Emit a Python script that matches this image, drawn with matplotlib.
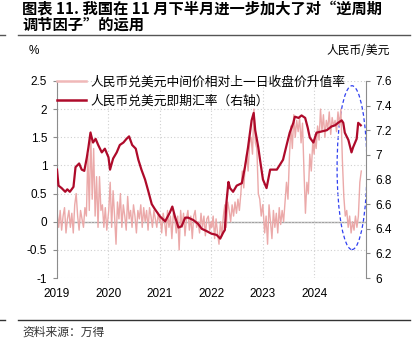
import numpy as np
import matplotlib
matplotlib.use("Agg")
import matplotlib.pyplot as plt
from matplotlib.patches import Ellipse
from matplotlib.lines import Line2D

plt.rcParams['font.family'] = ['Liberation Sans', 'Noto Sans CJK SC', 'DejaVu Sans']

# 中间价相对上一日收盘价升值率 (%), ~36 points per year
pink_2019 = [0.15, -0.1, 0.2, -0.15, 0.1, 0.25, -0.2, 0.05, 0.2, -0.1, 0.15, -0.2, 0.3, 0.5, 0.1, -0.15, 0.2, 0.05,
             -0.1, 0.25, 0.1, 1.2, 0.2, 1.6, 0.4, 1.3, 0.1, 0.8, -0.1, 0.8, 0.2, 0.3, -0.1, 0.25, -0.15, 0.1]
pink_2020 = [0.2, 0.7, -0.1, 0.55, 0.1, -0.4, 0.35, 0.05, 0.5, -0.1, 0.3, 0.1, -0.15, 0.45, 0.05, 0.2, -0.1, 0.3,
             0.1, -0.2, 0.2, 0.05, 0.3, -0.1, 0.25, 0.0, 0.2, -0.15, 0.25, 0.1, -0.1, 0.2, 0.05, -0.1, 0.15, 0.0]
pink_2021 = [0.1, -0.2, 0.15, 0.0, -0.25, 0.2, -0.1, 0.1, -0.3, 0.15, 0.05, -0.2, 0.1, -0.5, 0.2, -0.1, 0.15, -0.25,
             0.05, 0.2, -0.15, 0.1, -0.3, 0.1, 0.2, -0.1, 0.0, -0.2, 0.15, -0.1, 0.1, -0.25, 0.05, 0.1, -0.15, 0.0]
pink_2022 = [-0.1, 0.1, -0.3, 0.05, -0.2, -0.4, 0.0, -0.25, 0.1, 0.3, -0.1, 0.35, 0.2, 0.0, 0.3, 0.1, 0.35, 0.15,
             0.4, 0.2, 0.5, 0.9, 0.6, 1.0, 1.2, 0.9, 1.4, 1.5, 1.2, 2.0, 1.4, 1.3, 0.5, 0.4, 0.1, 0.3]
pink_2023 = [0.2, -0.2, 0.1, -0.4, 0.3, 0.0, -0.3, 0.2, -0.1, 0.15, -0.2, 0.25, -0.05, 0.2, 0.0, 0.35, 0.7, 0.4,
             1.15, 1.7, 1.3, 1.9, 1.5, 1.8, 1.6, 1.85, 1.4, 1.75, 0.9, 0.15, 0.7, 0.5, 1.2, 0.9, 1.4, 1.2]
pink_2024 = [1.5, 1.3, 1.7, 1.45, 2.0, 1.6, 1.9, 1.5, 1.8, 1.65, 1.95, 1.55, 1.85, 1.7, 1.8, 1.6, 1.95, 1.7,
             2.0, 1.1, 0.45, 0.1, 0.2, -0.1, 0.1, -0.2, 0.0, -0.15, 0.1, -0.1, 0.1, 0.7, 0.9]
pink_years = [2019, 2020, 2021, 2022, 2023, 2024]
pink_vals = [pink_2019, pink_2020, pink_2021, pink_2022, pink_2023, pink_2024]

# 人民币兑美元即期汇率 (右轴)
spot_t = [2019.00, 2019.03, 2019.09, 2019.16, 2019.20, 2019.25, 2019.32, 2019.36, 2019.43, 2019.48, 2019.53,
          2019.58, 2019.61, 2019.65, 2019.70, 2019.75, 2019.80, 2019.87, 2019.93, 2020.00, 2020.03, 2020.09,
          2020.16, 2020.22, 2020.29, 2020.35, 2020.40, 2020.46, 2020.53, 2020.58, 2020.64, 2020.71, 2020.77,
          2020.84, 2020.90, 2021.00, 2021.10, 2021.19, 2021.24, 2021.29, 2021.36, 2021.42, 2021.49, 2021.55,
          2021.65, 2021.74, 2021.81, 2021.91, 2022.00, 2022.10, 2022.17, 2022.23, 2022.26, 2022.29, 2022.33,
          2022.36, 2022.42, 2022.49, 2022.59, 2022.65, 2022.71, 2022.78, 2022.82, 2022.85, 2022.91, 2022.94,
          2023.00, 2023.07, 2023.14, 2023.20, 2023.27, 2023.33, 2023.39, 2023.46, 2023.52, 2023.59, 2023.62,
          2023.69, 2023.75, 2023.82, 2023.87, 2023.91, 2023.98, 2024.04, 2024.14, 2024.24, 2024.33, 2024.40,
          2024.46, 2024.53, 2024.56, 2024.59, 2024.66, 2024.72, 2024.75, 2024.82, 2024.85, 2024.90]
spot_v = [6.88, 6.75, 6.73, 6.70, 6.72, 6.70, 6.74, 6.90, 6.93, 6.88, 6.87,
          6.98, 7.06, 7.18, 7.10, 7.13, 7.08, 7.02, 7.05, 6.98, 6.88, 6.97,
          7.02, 7.08, 7.10, 7.13, 7.15, 7.08, 7.05, 6.96, 6.88, 6.80, 6.71,
          6.60, 6.56, 6.50, 6.46, 6.53, 6.58, 6.50, 6.41, 6.42, 6.49, 6.49,
          6.47, 6.44, 6.40, 6.38, 6.36, 6.35, 6.32, 6.37, 6.39, 6.61, 6.78,
          6.73, 6.70, 6.75, 6.77, 6.90, 7.06, 7.28, 7.34, 7.20, 7.06, 6.97,
          6.80, 6.73, 6.88, 6.88, 6.88, 6.92, 6.96, 7.08, 7.18, 7.26, 7.31,
          7.30, 7.32, 7.30, 7.22, 7.14, 7.10, 7.18, 7.19, 7.20, 7.23, 7.24,
          7.26, 7.28, 7.26, 7.18, 7.12, 7.02, 7.06, 7.13, 7.26, 7.24]

year_ticks = [2019, 2020, 2021, 2022, 2023, 2024]
left_ticks = [-1, -0.5, 0, 0.5, 1, 1.5, 2, 2.5]
right_ticks = [6, 6.2, 6.4, 6.6, 6.8, 7, 7.2, 7.4, 7.6]

pink = '#EBA9A9'
dark = '#AE0A2A'
grey = '#8C8C8C'

# build the pink series: points spread through each year
pink_t = []
pink_y = []
for yr, vals in zip(pink_years, pink_vals):
    t = np.linspace(yr + 0.005, yr + 0.995, 36)[:len(vals)]
    pink_t.extend(t)
    pink_y.extend(vals)

fig = plt.figure(figsize=(4.13, 3.5), dpi=100)
ax = fig.add_axes([0.138, 0.2057, 0.748, 0.563])
ax2 = ax.twinx()

ax.plot(pink_t, pink_y, color=pink, lw=1.0)
ax2.plot(spot_t, spot_v, color=dark, lw=1.6)

ax.set_xlim(2019, 2025)
ax.set_ylim(-1, 2.5)
ax2.set_ylim(6, 7.6)
ax.set_yticks(left_ticks)
ax.set_yticklabels(['-1', '-0.5', '0', '0.5', '1', '1.5', '2', '2.5'])
ax2.set_yticks(right_ticks)
ax2.set_yticklabels(['6', '6.2', '6.4', '6.6', '6.8', '7', '7.2', '7.4', '7.6'])
ax.set_xticks(year_ticks)
ax.set_xticklabels([str(y) for y in year_ticks])

ax.grid(True, color='#D0D0D0', ls=(0, (1, 2)), lw=0.8)
ax.axhline(0, color='#A0A0A0', lw=1.0, zorder=1)

for a in (ax, ax2):
    for s in ('top', 'bottom'):
        a.spines[s].set_visible(False)
ax.spines['right'].set_visible(False)
ax2.spines['left'].set_visible(False)
ax.spines['left'].set_color(grey)
ax2.spines['right'].set_color(grey)
ax.tick_params(axis='y', colors=grey, labelcolor='black', labelsize=8.5, length=3, width=0.8, pad=4)
ax2.tick_params(axis='y', colors=grey, labelcolor='black', labelsize=8.5, length=3, width=0.8, pad=4)
ax.tick_params(axis='x', length=0, labelsize=8.5, pad=7)

ell = Ellipse((2024.73, 0.96), 0.58, 2.91, fill=False, ec='#3040F0', ls=(0, (3, 2)), lw=0.9)
ax.add_patch(ell)

handles = [Line2D([], [], color='#F0B8B8', lw=1.8), Line2D([], [], color=dark, lw=1.8)]
ax2.legend(handles, ['人民币兑美元中间价相对上一日收盘价升值率', '人民币兑美元即期汇率（右轴）'],
           loc='upper left', bbox_to_anchor=(0.0, 1.025), frameon=False, fontsize=9.2,
           borderpad=0, borderaxespad=0, handlelength=2.3, handletextpad=0.35, labelspacing=0.55)

fig.text(22 / 413, 1 - 9 / 350, '图表 11. 我国在 11 月下半月进一步加大了对“逆周期', fontsize=11,
         fontweight='bold', family=['Noto Sans CJK SC'], va='center', ha='left')
fig.text(22 / 413, 1 - 25 / 350, '调节因子”的运用', fontsize=11,
         fontweight='bold', family=['Noto Sans CJK SC'], va='center', ha='left')
fig.add_artist(Line2D([18 / 413, 410 / 413], [1 - 35 / 350] * 2, color='#555555', lw=1.0))
fig.add_artist(Line2D([0, 5 / 413], [1 - 35 / 350] * 2, color='#555555', lw=1.0))
fig.text(29 / 413, 1 - 51 / 350, '%', fontsize=8.5, va='center', ha='left')
fig.text(390 / 413, 1 - 51 / 350, '人民币/美元', fontsize=8.5, va='center', ha='right',
         family=['Noto Sans CJK SC'])
fig.add_artist(Line2D([18 / 413, 410 / 413], [1 - 320 / 350] * 2, color='#333333', lw=1.0))
fig.add_artist(Line2D([0, 5 / 413], [1 - 320 / 350] * 2, color='#333333', lw=1.0))
fig.text(22 / 413, 1 - 332 / 350, '资料来源：万得', fontsize=8.5, va='center', ha='left',
         color='#333333', family=['Noto Sans CJK SC'], style='italic')

fig.savefig('out.png', dpi=100)
